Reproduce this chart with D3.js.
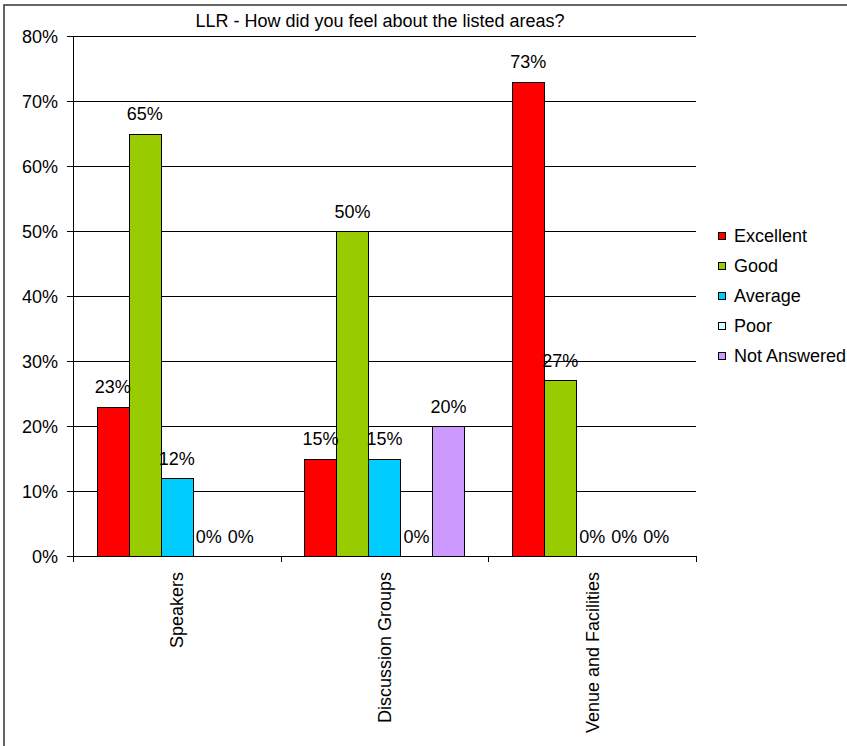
<!DOCTYPE html>
<html><head><meta charset="utf-8">
<script src="https://cdn.jsdelivr.net/npm/d3@7"></script>
<style>body{margin:0;background:#fff}svg{display:block}text{font-family:"Liberation Sans",Arial,sans-serif;fill:#000}</style>
</head><body>
<svg id="c" width="847" height="746"></svg>
<script>
const title = "LLR - How did you feel about the listed areas?";
const categories = ["Speakers", "Discussion Groups", "Venue and Facilities"];
const seriesNames = ["Excellent", "Good", "Average", "Poor", "Not Answered"];
const seriesColors = ["#FF0000", "#99CC00", "#00CCFF", "#CCFFFF", "#CC99FF"];
const excellent = [23, 15, 73];
const good = [65, 50, 27];
const average = [12, 15, 0];
const poor = [0, 0, 0];
const notAnswered = [0, 20, 0];
const yTicks = [0, 10, 20, 30, 40, 50, 60, 70, 80];

const series = [excellent, good, average, poor, notAnswered];
const FS = 18;
const svg = d3.select("#c");
svg.append("rect").attr("x",4).attr("y",5).attr("width",900).attr("height",800)
  .attr("fill","none").attr("stroke","#333").attr("stroke-width",1.5);

const L=73, R=696, T=36, B=556;
const y = d3.scaleLinear().domain([0,80]).range([B,T]);
const x0 = d3.scaleBand().domain(categories).range([L,R]).paddingInner(0).paddingOuter(0);
const groupW = x0.bandwidth();
const barW = 32;
const inner = d3.scaleBand().domain(seriesNames).range([(groupW-5*barW)/2,(groupW+5*barW)/2]);

function txt(g, x, yy, s, anchor, rot){
  return g.append("text").attr("transform",`translate(${x},${yy})${rot?" rotate(-90)":""}`)
    .attr("font-size",FS).attr("text-anchor",anchor||"middle").text(s);
}

// gridlines
svg.append("g").selectAll("line").data(yTicks.filter(d=>d>0)).join("line")
  .attr("x1",L).attr("x2",R).attr("y1",d=>Math.round(y(d))+0.5).attr("y2",d=>Math.round(y(d))+0.5)
  .attr("stroke","#000").attr("stroke-width",1);
// y axis
svg.append("line").attr("x1",L+0.5).attr("x2",L+0.5).attr("y1",T).attr("y2",B+6).attr("stroke","#000");
svg.append("g").selectAll("line").data(yTicks).join("line")
  .attr("x1",L-6).attr("x2",L).attr("y1",d=>Math.round(y(d))+0.5).attr("y2",d=>Math.round(y(d))+0.5).attr("stroke","#000");
const yl = svg.append("g");
yTicks.forEach(d=>txt(yl, 58, y(d)+6.5, d+"%", "end"));
// x axis
svg.append("line").attr("x1",L).attr("x2",R).attr("y1",B+0.5).attr("y2",B+0.5).attr("stroke","#000");
const bounds = categories.map(c=>x0(c)).concat([R]);
svg.append("g").selectAll("line").data(bounds).join("line")
  .attr("x1",d=>Math.round(d)+0.5).attr("x2",d=>Math.round(d)+0.5).attr("y1",B).attr("y2",B+6).attr("stroke","#000");
const xl = svg.append("g");
categories.forEach(c=>txt(xl, x0(c)+groupW/2+6.5, 572, c, "end", true));

// bars
const gb = svg.append("g");
const gl = svg.append("g");
categories.forEach((c,ci)=>{
  seriesNames.forEach((s,si)=>{
    const v = series[si][ci];
    const bx = x0(c)+inner(s);
    if (v>0) gb.append("rect").attr("x",Math.round(bx)+0.5).attr("y",Math.round(y(v))+0.5).attr("width",barW).attr("height",B-Math.round(y(v)))
      .attr("fill",seriesColors[si]).attr("stroke","#000").attr("stroke-width",1);
    txt(gl, bx+barW/2, y(v)-13.5, v+"%", "middle");
  });
});

// title
txt(svg, 380, 27, title, "middle");

// legend
const lg = svg.append("g");
seriesNames.forEach((s,i)=>{
  const cy = 235 + i*30.2;
  lg.append("rect").attr("x",718.5).attr("y",Math.round(cy-3.5)+0.5).attr("width",7).attr("height",7)
    .attr("fill",seriesColors[i]).attr("stroke","#000");
  txt(lg, 734, cy+6.5, s, "start");
});
</script>
</body></html>
